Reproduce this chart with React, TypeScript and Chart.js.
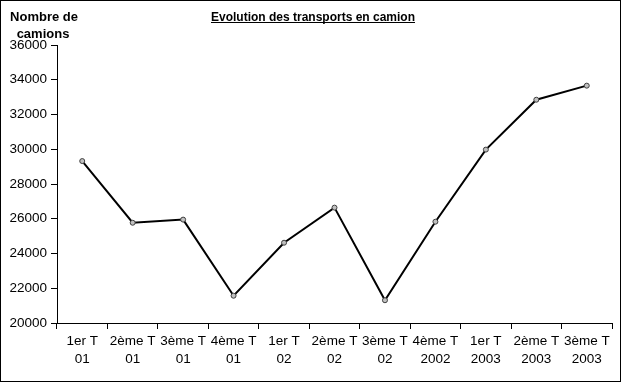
import React, { useEffect, useRef } from "react";
import { Chart, registerables } from "chart.js";

Chart.register(...registerables);

// ---- Data ----
const categories: string[][] = [
  ["1er T", "01"],
  ["2ème T", "01"],
  ["3ème T", "01"],
  ["4ème T", "01"],
  ["1er T", "02"],
  ["2ème T", "02"],
  ["3ème T", "02"],
  ["4ème T", "2002"],
  ["1er T", "2003"],
  ["2ème T", "2003"],
  ["3ème T", "2003"],
];
const camions: number[] = [29320, 25770, 25950, 21570, 24620, 26640, 21310, 25830, 29980, 32850, 33660];
const yMin = 20000;
const yMax = 36000;
const yStep = 2000;
const chartTitle = "Evolution des transports en camion";
const yTitle: string[] = ["Nombre de", "camions"];

const FONT = "'Liberation Sans', Arial, sans-serif";

const decor = {
  id: "decor",
  beforeDraw(chart: any) {
    const ctx = chart.ctx;
    ctx.save();
    ctx.fillStyle = "#ffffff";
    ctx.fillRect(0, 0, chart.width, chart.height);
    ctx.restore();
  },
  afterDraw(chart: any) {
    const ctx = chart.ctx;
    ctx.save();
    ctx.strokeStyle = "#000000";
    ctx.lineWidth = 1;
    ctx.strokeRect(0.5, 0.5, 620, 381);
    ctx.fillStyle = "#000000";
    ctx.textBaseline = "alphabetic";
    ctx.textAlign = "center";
    ctx.font = `bold 12px ${FONT}`;
    ctx.fillText(chartTitle, 313, 21);
    const w = ctx.measureText(chartTitle).width;
    ctx.fillRect(Math.round(313 - w / 2), 22, Math.round(w), 1);
    ctx.font = `bold 13px ${FONT}`;
    ctx.fillText(yTitle[0], 44, 21);
    ctx.fillText(yTitle[1], 43, 38);
    ctx.restore();
  },
};

export default function App() {
  const ref = useRef<HTMLCanvasElement | null>(null);
  useEffect(() => {
    if (!ref.current) return;
    const chart = new Chart(ref.current, {
      type: "line",
      data: {
        labels: categories,
        datasets: [
          {
            data: camions,
            borderColor: "#000000",
            borderWidth: 2,
            pointRadius: 2.5,
            pointBackgroundColor: "#c0c0c0",
            pointBorderColor: "#404040",
            pointBorderWidth: 1,
            tension: 0,
            fill: false,
          },
        ],
      },
      options: {
        responsive: false,
        animation: false,
        layout: { padding: { left: 0, right: 12, top: 45, bottom: 0 } },
        plugins: {
          legend: { display: false },
          tooltip: { enabled: false },
          title: { display: false },
        },
        scales: {
          x: {
            type: "category",
            offset: true,
            grid: {
              offset: true,
              drawOnChartArea: false,
              drawTicks: true,
              tickLength: 6,
              color: "#000000",
            },
            border: { color: "#000000", width: 1 },
            ticks: {
              color: "#000000",
              autoSkip: false,
              maxRotation: 0,
              minRotation: 0,
              padding: 3,
              font: { family: FONT, size: 13.5, lineHeight: 1.35 },
            },
            afterFit(scale: any) {
              scale.height = 62;
            },
          },
          y: {
            min: yMin,
            max: yMax,
            grid: {
              drawOnChartArea: false,
              drawTicks: true,
              tickLength: 6,
              color: "#000000",
            },
            border: { color: "#000000", width: 1 },
            ticks: {
              stepSize: yStep,
              color: "#000000",
              padding: 4,
              font: { family: FONT, size: 13.5 },
              callback: (value: any) => String(value),
            },
            afterFit(scale: any) {
              scale.width = 57;
            },
          },
        },
      },
      plugins: [decor],
    });
    return () => chart.destroy();
  }, []);
  return (
    <div style={{ position: "absolute", left: 0, top: 0, width: 624, height: 385 }}>
      <canvas ref={ref} width={624} height={385} />
    </div>
  );
}
